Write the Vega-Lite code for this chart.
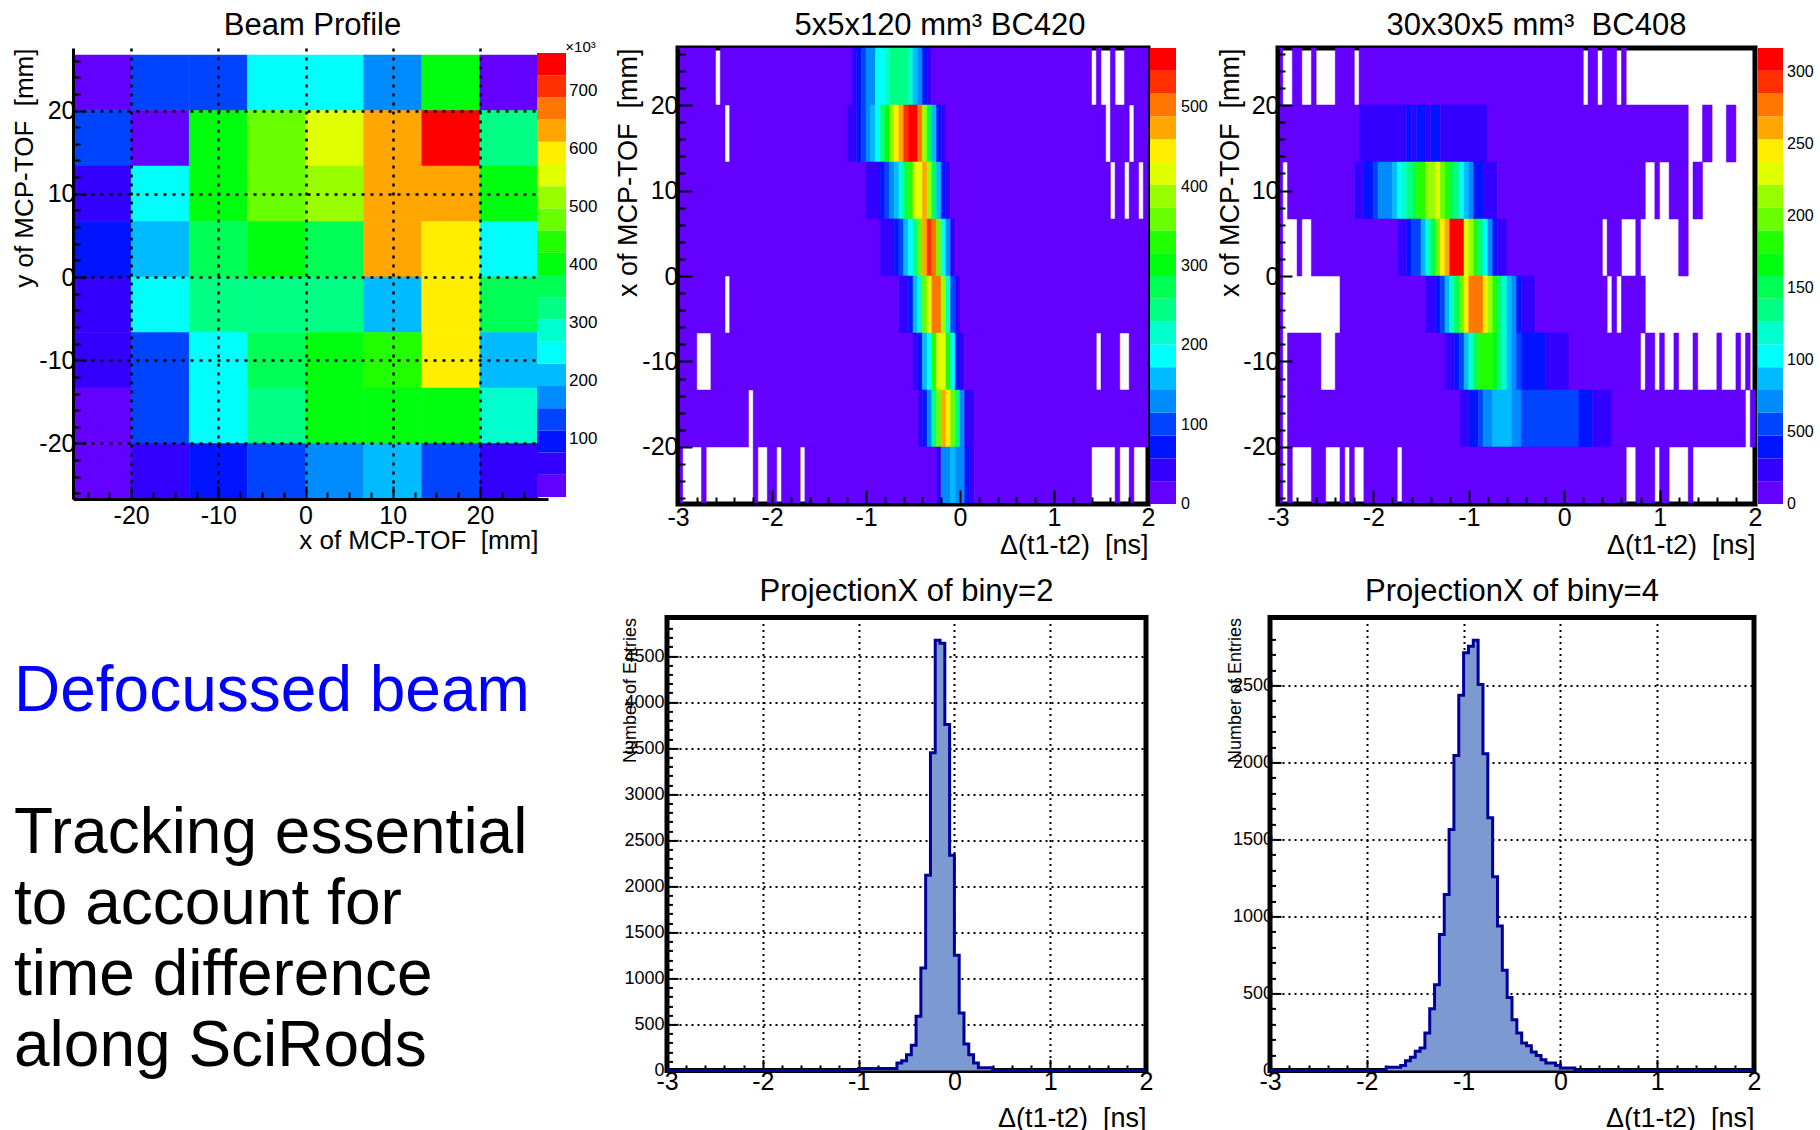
{
"$schema": "https://vega.github.io/schema/vega-lite/v6.json",
"padding": {"left": 11, "top": 7, "right": 0, "bottom": 0},
"spacing": 11.4,
"resolve": {"scale": {"fill": "independent", "stroke": "independent", "x": "independent", "y": "independent"}, "legend": {"fill": "independent"}},
"config": {
  "font": "Liberation Sans",
  "background": "white",
  "view": {"stroke": "black", "strokeWidth": 5},
  "axis": {"domainColor": "black", "domainWidth": 3, "tickColor": "black", "tickWidth": 2, "labelColor": "black", "titleColor": "black", "labelFontSize": 25, "titleFontSize": 27, "titleFontWeight": "normal", "labelFont": "Liberation Sans", "titleFont": "Liberation Sans", "grid": false, "labelFlush": false, "labelOverlap": false, "tickCount": 200},
  "title": {"fontSize": 31, "fontWeight": "normal", "font": "Liberation Sans", "color": "black", "anchor": "middle", "frame": "group"},
  "legend": {"labelFont": "Liberation Sans", "labelColor": "black", "gradientStrokeWidth": 0, "labelOverlap": false}
},
"vconcat": [
{
"hconcat": [
{
  "width": 475, "height": 451,
  "view": {"stroke": null},
  "title": {"text": "Beam Profile", "offset": -2, "dx": 2},
  "layer": [
  {
    "data": {"values": [
      {"x0":-26.667,"x1":-20,"y0":20,"y1":26.667,"v":19},{"x0":-20,"x1":-13.333,"y0":20,"y1":26.667,"v":134},{"x0":-13.333,"x1":-6.667,"y0":20,"y1":26.667,"v":134},{"x0":-6.667,"x1":0,"y0":20,"y1":26.667,"v":249},{"x0":0,"x1":6.667,"y0":20,"y1":26.667,"v":249},{"x0":6.667,"x1":13.333,"y0":20,"y1":26.667,"v":172},{"x0":13.333,"x1":20,"y0":20,"y1":26.667,"v":402},{"x0":20,"x1":26.667,"y0":20,"y1":26.667,"v":19},
      {"x0":-26.667,"x1":-20,"y0":13.333,"y1":20,"v":134},{"x0":-20,"x1":-13.333,"y0":13.333,"y1":20,"v":19},{"x0":-13.333,"x1":-6.667,"y0":13.333,"y1":20,"v":402},{"x0":-6.667,"x1":0,"y0":13.333,"y1":20,"v":479},{"x0":0,"x1":6.667,"y0":13.333,"y1":20,"v":555},{"x0":6.667,"x1":13.333,"y0":13.333,"y1":20,"v":632},{"x0":13.333,"x1":20,"y0":13.333,"y1":20,"v":747},{"x0":20,"x1":26.667,"y0":13.333,"y1":20,"v":326},
      {"x0":-26.667,"x1":-20,"y0":6.667,"y1":13.333,"v":57},{"x0":-20,"x1":-13.333,"y0":6.667,"y1":13.333,"v":249},{"x0":-13.333,"x1":-6.667,"y0":6.667,"y1":13.333,"v":402},{"x0":-6.667,"x1":0,"y0":6.667,"y1":13.333,"v":479},{"x0":0,"x1":6.667,"y0":6.667,"y1":13.333,"v":517},{"x0":6.667,"x1":13.333,"y0":6.667,"y1":13.333,"v":632},{"x0":13.333,"x1":20,"y0":6.667,"y1":13.333,"v":632},{"x0":20,"x1":26.667,"y0":6.667,"y1":13.333,"v":402},
      {"x0":-26.667,"x1":-20,"y0":0,"y1":6.667,"v":96},{"x0":-20,"x1":-13.333,"y0":0,"y1":6.667,"v":211},{"x0":-13.333,"x1":-6.667,"y0":0,"y1":6.667,"v":364},{"x0":-6.667,"x1":0,"y0":0,"y1":6.667,"v":402},{"x0":0,"x1":6.667,"y0":0,"y1":6.667,"v":364},{"x0":6.667,"x1":13.333,"y0":0,"y1":6.667,"v":632},{"x0":13.333,"x1":20,"y0":0,"y1":6.667,"v":594},{"x0":20,"x1":26.667,"y0":0,"y1":6.667,"v":249},
      {"x0":-26.667,"x1":-20,"y0":-6.667,"y1":0,"v":57},{"x0":-20,"x1":-13.333,"y0":-6.667,"y1":0,"v":249},{"x0":-13.333,"x1":-6.667,"y0":-6.667,"y1":0,"v":326},{"x0":-6.667,"x1":0,"y0":-6.667,"y1":0,"v":326},{"x0":0,"x1":6.667,"y0":-6.667,"y1":0,"v":326},{"x0":6.667,"x1":13.333,"y0":-6.667,"y1":0,"v":211},{"x0":13.333,"x1":20,"y0":-6.667,"y1":0,"v":594},{"x0":20,"x1":26.667,"y0":-6.667,"y1":0,"v":364},
      {"x0":-26.667,"x1":-20,"y0":-13.333,"y1":-6.667,"v":57},{"x0":-20,"x1":-13.333,"y0":-13.333,"y1":-6.667,"v":134},{"x0":-13.333,"x1":-6.667,"y0":-13.333,"y1":-6.667,"v":249},{"x0":-6.667,"x1":0,"y0":-13.333,"y1":-6.667,"v":364},{"x0":0,"x1":6.667,"y0":-13.333,"y1":-6.667,"v":402},{"x0":6.667,"x1":13.333,"y0":-13.333,"y1":-6.667,"v":440},{"x0":13.333,"x1":20,"y0":-13.333,"y1":-6.667,"v":594},{"x0":20,"x1":26.667,"y0":-13.333,"y1":-6.667,"v":211},
      {"x0":-26.667,"x1":-20,"y0":-20,"y1":-13.333,"v":19},{"x0":-20,"x1":-13.333,"y0":-20,"y1":-13.333,"v":134},{"x0":-13.333,"x1":-6.667,"y0":-20,"y1":-13.333,"v":249},{"x0":-6.667,"x1":0,"y0":-20,"y1":-13.333,"v":326},{"x0":0,"x1":6.667,"y0":-20,"y1":-13.333,"v":402},{"x0":6.667,"x1":13.333,"y0":-20,"y1":-13.333,"v":402},{"x0":13.333,"x1":20,"y0":-20,"y1":-13.333,"v":402},{"x0":20,"x1":26.667,"y0":-20,"y1":-13.333,"v":287},
      {"x0":-26.667,"x1":-20,"y0":-26.667,"y1":-20,"v":19},{"x0":-20,"x1":-13.333,"y0":-26.667,"y1":-20,"v":57},{"x0":-13.333,"x1":-6.667,"y0":-26.667,"y1":-20,"v":96},{"x0":-6.667,"x1":0,"y0":-26.667,"y1":-20,"v":134},{"x0":0,"x1":6.667,"y0":-26.667,"y1":-20,"v":172},{"x0":6.667,"x1":13.333,"y0":-26.667,"y1":-20,"v":211},{"x0":13.333,"x1":20,"y0":-26.667,"y1":-20,"v":134},{"x0":20,"x1":26.667,"y0":-26.667,"y1":-20,"v":57}
    ]},
    "mark": {"type": "rect", "strokeWidth": 0.5},
    "encoding": {
      "x": {"field": "x0", "type": "quantitative", "scale": {"domain": [-26.667, 27.809], "nice": false, "zero": false},
        "axis": {"title": "x of MCP-TOF\u00a0 [mm]", "titleFontSize": 26, "titleAnchor": "end", "titleX": 465, "titleAlign": "right", "titlePadding": -7, "labelPadding": 17, "zindex": 1, "labelOverlap": false, "tickCount": 200,
          "values": [-25,-22.5,-20,-17.5,-15,-12.5,-10,-7.5,-5,-2.5,0,2.5,5,7.5,10,12.5,15,17.5,20,22.5,25],
          "labelExpr": "datum.value % 10 === 0 ? toString(datum.value) : ''",
          "tickSize": {"condition": {"test": "datum.value % 10 === 0", "value": -13}, "value": -7},
          "grid": true, "gridColor": "black", "gridDash": [3, 6], "gridWidth": 2.5,
          "gridOpacity": {"condition": {"test": "datum.value % 10 === 0", "value": 1}, "value": 0}}},
      "x2": {"field": "x1"},
      "y": {"field": "y0", "type": "quantitative", "scale": {"domain": [-26.667, 27.508], "nice": false, "zero": false},
        "axis": {"title": "y of MCP-TOF\u00a0 [mm]", "titleFontSize": 26, "titleAnchor": "end", "titlePadding": 1.5, "labelPadding": 11, "zindex": 1, "labelOverlap": false, "tickCount": 200,
          "values": [-26,-24,-22,-20,-18,-16,-14,-12,-10,-8,-6,-4,-2,0,2,4,6,8,10,12,14,16,18,20,22,24,26],
          "labelExpr": "datum.value % 10 === 0 ? toString(datum.value) : ''",
          "tickSize": {"condition": {"test": "datum.value % 10 === 0", "value": -13}, "value": -7},
          "grid": true, "gridColor": "black", "gridDash": [3, 6], "gridWidth": 2.5,
          "gridOpacity": {"condition": {"test": "datum.value % 10 === 0", "value": 1}, "value": 0}}},
      "y2": {"field": "y1"},
      "fill": {"field": "v", "type": "quantitative",
        "scale": {"type": "quantize", "domain": [0, 766], "nice": false, "range": ["#6300ff","#3300ff","#0014ff","#0044ff","#008bff","#00bbff","#00fffc","#00ffcc","#00ff85","#00ff55","#00ff0e","#22ff00","#69ff00","#99ff00","#e0ff00","#ffee00","#ffa700","#ff7700","#ff3000","#ff0000"]},
        "legend": {"type": "gradient", "direction": "vertical", "orient": "right", "title": null, "gradientLength": 444, "gradientThickness": 29, "offset": -16.5, "padding": 5, "labelFontSize": 17, "labelOffset": 3, "zindex": 1, "labelOverlap": false,
          "labelExpr": "(round(datum.value/100)*100 > 0 && abs(datum.value - round(datum.value/100)*100) < 19.15) ? toString(round(datum.value/100)*100) : ''",
          "encode": {"labels": {"update": {"dy": {"signal": "(datum.value - round(datum.value/100)*100)/766*444"}}}}}},
      "stroke": {"field": "v", "type": "quantitative", "legend": null,
        "scale": {"type": "quantize", "domain": [0, 766], "nice": false, "range": ["#6300ff","#3300ff","#0014ff","#0044ff","#008bff","#00bbff","#00fffc","#00ffcc","#00ff85","#00ff55","#00ff0e","#22ff00","#69ff00","#99ff00","#e0ff00","#ffee00","#ffa700","#ff7700","#ff3000","#ff0000"]}}
    }
  },
  {
    "data": {"values": [{"x": 29.8, "y": 27.6, "label": "×10³"}]},
    "mark": {"type": "text", "fontSize": 15, "align": "left", "baseline": "middle", "color": "black"},
    "encoding": {"x": {"field": "x", "type": "quantitative"}, "y": {"field": "y", "type": "quantitative"}, "text": {"field": "label"}}
  }
  ]
},
{
  "width": 470, "height": 456,
  "title": {"text": "5x5x120 mm³ BC420", "offset": 0, "dx": 27},
  "layer": [
  {
  "data": {"values": [
    {"y0":20,"y1":26.667,"x0":-3,"x1":-2.6,"v":141},{"y0":20,"y1":26.667,"x0":-2.55,"x1":-1.15,"v":141},{"y0":20,"y1":26.667,"x0":-1.15,"x1":-1.1,"v":423},{"y0":20,"y1":26.667,"x0":-1.1,"x1":-1.05,"v":705},{"y0":20,"y1":26.667,"x0":-1.05,"x1":-1,"v":987},{"y0":20,"y1":26.667,"x0":-1,"x1":-0.9,"v":1269},{"y0":20,"y1":26.667,"x0":-0.9,"x1":-0.8,"v":1833},{"y0":20,"y1":26.667,"x0":-0.8,"x1":-0.75,"v":2115},{"y0":20,"y1":26.667,"x0":-0.75,"x1":-0.55,"v":2397},{"y0":20,"y1":26.667,"x0":-0.55,"x1":-0.5,"v":2115},{"y0":20,"y1":26.667,"x0":-0.5,"x1":-0.45,"v":1551},{"y0":20,"y1":26.667,"x0":-0.45,"x1":-0.4,"v":1269},{"y0":20,"y1":26.667,"x0":-0.4,"x1":-0.35,"v":705},{"y0":20,"y1":26.667,"x0":-0.35,"x1":-0.3,"v":423},{"y0":20,"y1":26.667,"x0":-0.3,"x1":1.4,"v":141},{"y0":20,"y1":26.667,"x0":1.45,"x1":1.5,"v":141},{"y0":20,"y1":26.667,"x0":1.6,"x1":1.65,"v":141},{"y0":20,"y1":26.667,"x0":1.75,"x1":2,"v":141},
    {"y0":13.333,"y1":20,"x0":-3,"x1":-2.5,"v":141},{"y0":13.333,"y1":20,"x0":-2.45,"x1":-1.2,"v":141},{"y0":13.333,"y1":20,"x0":-1.2,"x1":-1.1,"v":423},{"y0":13.333,"y1":20,"x0":-1.1,"x1":-1.05,"v":705},{"y0":13.333,"y1":20,"x0":-1.05,"x1":-1,"v":987},{"y0":13.333,"y1":20,"x0":-1,"x1":-0.95,"v":1269},{"y0":13.333,"y1":20,"x0":-0.95,"x1":-0.9,"v":1551},{"y0":13.333,"y1":20,"x0":-0.9,"x1":-0.85,"v":1833},{"y0":13.333,"y1":20,"x0":-0.85,"x1":-0.8,"v":2397},{"y0":13.333,"y1":20,"x0":-0.8,"x1":-0.75,"v":2961},{"y0":13.333,"y1":20,"x0":-0.75,"x1":-0.7,"v":3807},{"y0":13.333,"y1":20,"x0":-0.7,"x1":-0.65,"v":4371},{"y0":13.333,"y1":20,"x0":-0.65,"x1":-0.6,"v":4653},{"y0":13.333,"y1":20,"x0":-0.6,"x1":-0.55,"v":5217},{"y0":13.333,"y1":20,"x0":-0.55,"x1":-0.45,"v":5499},{"y0":13.333,"y1":20,"x0":-0.45,"x1":-0.4,"v":4935},{"y0":13.333,"y1":20,"x0":-0.4,"x1":-0.35,"v":3807},{"y0":13.333,"y1":20,"x0":-0.35,"x1":-0.3,"v":2679},{"y0":13.333,"y1":20,"x0":-0.3,"x1":-0.25,"v":1551},{"y0":13.333,"y1":20,"x0":-0.25,"x1":-0.2,"v":705},{"y0":13.333,"y1":20,"x0":-0.2,"x1":-0.15,"v":423},{"y0":13.333,"y1":20,"x0":-0.15,"x1":1.55,"v":141},{"y0":13.333,"y1":20,"x0":1.6,"x1":1.8,"v":141},{"y0":13.333,"y1":20,"x0":1.85,"x1":2,"v":141},
    {"y0":6.667,"y1":13.333,"x0":-3,"x1":-1,"v":141},{"y0":6.667,"y1":13.333,"x0":-1,"x1":-0.85,"v":423},{"y0":6.667,"y1":13.333,"x0":-0.85,"x1":-0.8,"v":705},{"y0":6.667,"y1":13.333,"x0":-0.8,"x1":-0.75,"v":987},{"y0":6.667,"y1":13.333,"x0":-0.75,"x1":-0.7,"v":1269},{"y0":6.667,"y1":13.333,"x0":-0.7,"x1":-0.65,"v":1551},{"y0":6.667,"y1":13.333,"x0":-0.65,"x1":-0.6,"v":2115},{"y0":6.667,"y1":13.333,"x0":-0.6,"x1":-0.55,"v":2679},{"y0":6.667,"y1":13.333,"x0":-0.55,"x1":-0.5,"v":3243},{"y0":6.667,"y1":13.333,"x0":-0.5,"x1":-0.4,"v":4089},{"y0":6.667,"y1":13.333,"x0":-0.4,"x1":-0.35,"v":4653},{"y0":6.667,"y1":13.333,"x0":-0.35,"x1":-0.3,"v":3807},{"y0":6.667,"y1":13.333,"x0":-0.3,"x1":-0.25,"v":2679},{"y0":6.667,"y1":13.333,"x0":-0.25,"x1":-0.2,"v":1551},{"y0":6.667,"y1":13.333,"x0":-0.2,"x1":-0.15,"v":705},{"y0":6.667,"y1":13.333,"x0":-0.15,"x1":-0.1,"v":423},{"y0":6.667,"y1":13.333,"x0":-0.1,"x1":1.6,"v":141},{"y0":6.667,"y1":13.333,"x0":1.65,"x1":1.75,"v":141},{"y0":6.667,"y1":13.333,"x0":1.8,"x1":1.9,"v":141},{"y0":6.667,"y1":13.333,"x0":1.95,"x1":2,"v":141},
    {"y0":0,"y1":6.667,"x0":-3,"x1":-0.85,"v":141},{"y0":0,"y1":6.667,"x0":-0.85,"x1":-0.7,"v":423},{"y0":0,"y1":6.667,"x0":-0.7,"x1":-0.65,"v":705},{"y0":0,"y1":6.667,"x0":-0.65,"x1":-0.6,"v":987},{"y0":0,"y1":6.667,"x0":-0.6,"x1":-0.55,"v":1551},{"y0":0,"y1":6.667,"x0":-0.55,"x1":-0.5,"v":1833},{"y0":0,"y1":6.667,"x0":-0.5,"x1":-0.45,"v":2397},{"y0":0,"y1":6.667,"x0":-0.45,"x1":-0.4,"v":3525},{"y0":0,"y1":6.667,"x0":-0.4,"x1":-0.35,"v":4653},{"y0":0,"y1":6.667,"x0":-0.35,"x1":-0.3,"v":5217},{"y0":0,"y1":6.667,"x0":-0.3,"x1":-0.25,"v":4935},{"y0":0,"y1":6.667,"x0":-0.25,"x1":-0.2,"v":3525},{"y0":0,"y1":6.667,"x0":-0.2,"x1":-0.15,"v":1833},{"y0":0,"y1":6.667,"x0":-0.15,"x1":-0.1,"v":1269},{"y0":0,"y1":6.667,"x0":-0.1,"x1":-0.05,"v":423},{"y0":0,"y1":6.667,"x0":-0.05,"x1":2,"v":141},
    {"y0":-6.667,"y1":0,"x0":-3,"x1":-2.5,"v":141},{"y0":-6.667,"y1":0,"x0":-2.45,"x1":-0.65,"v":141},{"y0":-6.667,"y1":0,"x0":-0.65,"x1":-0.55,"v":423},{"y0":-6.667,"y1":0,"x0":-0.55,"x1":-0.5,"v":705},{"y0":-6.667,"y1":0,"x0":-0.5,"x1":-0.45,"v":1551},{"y0":-6.667,"y1":0,"x0":-0.45,"x1":-0.4,"v":2115},{"y0":-6.667,"y1":0,"x0":-0.4,"x1":-0.35,"v":3525},{"y0":-6.667,"y1":0,"x0":-0.35,"x1":-0.3,"v":4089},{"y0":-6.667,"y1":0,"x0":-0.3,"x1":-0.2,"v":4935},{"y0":-6.667,"y1":0,"x0":-0.2,"x1":-0.15,"v":3807},{"y0":-6.667,"y1":0,"x0":-0.15,"x1":-0.1,"v":2115},{"y0":-6.667,"y1":0,"x0":-0.1,"x1":-0.05,"v":987},{"y0":-6.667,"y1":0,"x0":-0.05,"x1":0,"v":423},{"y0":-6.667,"y1":0,"x0":0,"x1":2,"v":141},
    {"y0":-13.333,"y1":-6.667,"x0":-3,"x1":-2.8,"v":141},{"y0":-13.333,"y1":-6.667,"x0":-2.65,"x1":-0.5,"v":141},{"y0":-13.333,"y1":-6.667,"x0":-0.5,"x1":-0.45,"v":423},{"y0":-13.333,"y1":-6.667,"x0":-0.45,"x1":-0.4,"v":705},{"y0":-13.333,"y1":-6.667,"x0":-0.4,"x1":-0.35,"v":1551},{"y0":-13.333,"y1":-6.667,"x0":-0.35,"x1":-0.3,"v":1833},{"y0":-13.333,"y1":-6.667,"x0":-0.3,"x1":-0.25,"v":3243},{"y0":-13.333,"y1":-6.667,"x0":-0.25,"x1":-0.15,"v":4089},{"y0":-13.333,"y1":-6.667,"x0":-0.15,"x1":-0.1,"v":3243},{"y0":-13.333,"y1":-6.667,"x0":-0.1,"x1":-0.05,"v":1833},{"y0":-13.333,"y1":-6.667,"x0":-0.05,"x1":0,"v":705},{"y0":-13.333,"y1":-6.667,"x0":0,"x1":0.05,"v":423},{"y0":-13.333,"y1":-6.667,"x0":0.05,"x1":1.45,"v":141},{"y0":-13.333,"y1":-6.667,"x0":1.5,"x1":1.7,"v":141},{"y0":-13.333,"y1":-6.667,"x0":1.8,"x1":2,"v":141},
    {"y0":-20,"y1":-13.333,"x0":-3,"x1":-2.25,"v":141},{"y0":-20,"y1":-13.333,"x0":-2.2,"x1":-0.45,"v":141},{"y0":-20,"y1":-13.333,"x0":-0.45,"x1":-0.4,"v":423},{"y0":-20,"y1":-13.333,"x0":-0.4,"x1":-0.35,"v":705},{"y0":-20,"y1":-13.333,"x0":-0.35,"x1":-0.3,"v":1269},{"y0":-20,"y1":-13.333,"x0":-0.3,"x1":-0.25,"v":2397},{"y0":-20,"y1":-13.333,"x0":-0.25,"x1":-0.2,"v":3525},{"y0":-20,"y1":-13.333,"x0":-0.2,"x1":-0.15,"v":4653},{"y0":-20,"y1":-13.333,"x0":-0.15,"x1":-0.1,"v":4371},{"y0":-20,"y1":-13.333,"x0":-0.1,"x1":-0.05,"v":3525},{"y0":-20,"y1":-13.333,"x0":-0.05,"x1":0,"v":2397},{"y0":-20,"y1":-13.333,"x0":0,"x1":0.05,"v":1269},{"y0":-20,"y1":-13.333,"x0":0.05,"x1":0.15,"v":423},{"y0":-20,"y1":-13.333,"x0":0.15,"x1":2,"v":141},
    {"y0":-26.667,"y1":-20,"x0":-3,"x1":-2.95,"v":141},{"y0":-26.667,"y1":-20,"x0":-2.75,"x1":-2.7,"v":141},{"y0":-26.667,"y1":-20,"x0":-2.2,"x1":-2.15,"v":141},{"y0":-26.667,"y1":-20,"x0":-2.05,"x1":-1.95,"v":141},{"y0":-26.667,"y1":-20,"x0":-1.9,"x1":-1.7,"v":141},{"y0":-26.667,"y1":-20,"x0":-1.65,"x1":-0.25,"v":141},{"y0":-26.667,"y1":-20,"x0":-0.25,"x1":-0.2,"v":423},{"y0":-26.667,"y1":-20,"x0":-0.2,"x1":-0.1,"v":1269},{"y0":-26.667,"y1":-20,"x0":-0.1,"x1":-0.05,"v":1551},{"y0":-26.667,"y1":-20,"x0":-0.05,"x1":0.05,"v":1269},{"y0":-26.667,"y1":-20,"x0":0.05,"x1":0.1,"v":705},{"y0":-26.667,"y1":-20,"x0":0.1,"x1":0.15,"v":423},{"y0":-26.667,"y1":-20,"x0":0.15,"x1":1.4,"v":141},{"y0":-26.667,"y1":-20,"x0":1.65,"x1":1.7,"v":141},{"y0":-26.667,"y1":-20,"x0":1.8,"x1":1.85,"v":141}
  ]},
  "mark": {"type": "rect", "strokeWidth": 0.5},
  "encoding": {
    "x": {"field": "x0", "type": "quantitative", "scale": {"domain": [-3, 2], "nice": false, "zero": false},
      "axis": {"title": "Δ(t1-t2)\u00a0 [ns]", "titleAnchor": "end", "titlePadding": -5, "labelPadding": 15, "zindex": 1, "labelOverlap": false, "tickCount": 200,
        "values": [-3,-2.8,-2.6,-2.4,-2.2,-2,-1.8,-1.6,-1.4,-1.2,-1,-0.8,-0.6,-0.4,-0.2,0,0.2,0.4,0.6,0.8,1,1.2,1.4,1.6,1.8,2],
        "labelExpr": "abs(datum.value - round(datum.value)) < 0.001 ? toString(round(datum.value)) : ''",
        "tickSize": {"condition": {"test": "abs(datum.value - round(datum.value)) < 0.001", "value": -14}, "value": -7}}},
    "x2": {"field": "x1"},
    "y": {"field": "y0", "type": "quantitative", "scale": {"domain": [-26.667, 26.667], "nice": false, "zero": false},
      "axis": {"title": "x of MCP-TOF\u00a0 [mm]", "titleAnchor": "end", "titlePadding": -1, "labelPadding": 14, "zindex": 1, "labelOverlap": false, "tickCount": 200,
        "values": [-26,-24,-22,-20,-18,-16,-14,-12,-10,-8,-6,-4,-2,0,2,4,6,8,10,12,14,16,18,20,22,24,26],
        "labelExpr": "datum.value % 10 === 0 ? toString(datum.value) : ''",
        "tickSize": {"condition": {"test": "datum.value % 10 === 0", "value": -14}, "value": -7}}},
    "y2": {"field": "y1"},
    "fill": {"field": "v", "type": "quantitative",
      "scale": {"type": "quantize", "domain": [0, 5750], "nice": false, "range": ["#6300ff","#3300ff","#0014ff","#0044ff","#008bff","#00bbff","#00fffc","#00ffcc","#00ff85","#00ff55","#00ff0e","#22ff00","#69ff00","#99ff00","#e0ff00","#ffee00","#ffa700","#ff7700","#ff3000","#ff0000"]},
      "legend": {"type": "gradient", "direction": "vertical", "orient": "right", "title": null, "gradientLength": 456, "gradientThickness": 26, "offset": 2, "padding": 0, "labelFontSize": 16, "labelOffset": 5, "labelOverlap": false,
        "labelExpr": "(abs(datum.value - round(datum.value/1000)*1000) < 143.7 && datum.value > 500) ? substring(toString(round(datum.value/1000)*1000), 0, 3) : ''",
        "encode": {"labels": {"update": {"dy": {"signal": "(datum.value - round(datum.value/1000)*1000)/5750*456"}}}}}},
    "stroke": {"field": "v", "type": "quantitative", "legend": null,
      "scale": {"type": "quantize", "domain": [0, 5750], "nice": false, "range": ["#6300ff","#3300ff","#0014ff","#0044ff","#008bff","#00bbff","#00fffc","#00ffcc","#00ff85","#00ff55","#00ff0e","#22ff00","#69ff00","#99ff00","#e0ff00","#ffee00","#ffa700","#ff7700","#ff3000","#ff0000"]}}
  }
  },
  {
    "data": {"values": [{"x": 2.351, "y": -26.667, "label": "0"}]},
    "mark": {"type": "text", "fontSize": 16, "align": "left", "baseline": "middle", "color": "black"},
    "encoding": {"x": {"field": "x", "type": "quantitative"}, "y": {"field": "y", "type": "quantitative"}, "text": {"field": "label"}}
  }
  ]
},
{
  "width": 477, "height": 456,
  "title": {"text": "30x30x5 mm³\u00a0 BC408", "offset": 0, "dx": 20},
  "layer": [
  {
  "data": {"values": [
    {"y0":20,"y1":26.667,"x0":-3,"x1":-2.95,"v":79},{"y0":20,"y1":26.667,"x0":-2.85,"x1":-2.75,"v":79},{"y0":20,"y1":26.667,"x0":-2.65,"x1":-2.6,"v":79},{"y0":20,"y1":26.667,"x0":-2.4,"x1":-2.2,"v":79},{"y0":20,"y1":26.667,"x0":-2.15,"x1":0.2,"v":79},{"y0":20,"y1":26.667,"x0":0.25,"x1":0.35,"v":79},{"y0":20,"y1":26.667,"x0":0.4,"x1":0.55,"v":79},{"y0":20,"y1":26.667,"x0":0.6,"x1":0.65,"v":79},
    {"y0":13.333,"y1":20,"x0":-3,"x1":-2.15,"v":79},{"y0":13.333,"y1":20,"x0":-2.15,"x1":-1.65,"v":237},{"y0":13.333,"y1":20,"x0":-1.65,"x1":-1.6,"v":394},{"y0":13.333,"y1":20,"x0":-1.6,"x1":-1.55,"v":237},{"y0":13.333,"y1":20,"x0":-1.55,"x1":-1.45,"v":394},{"y0":13.333,"y1":20,"x0":-1.45,"x1":-1.4,"v":237},{"y0":13.333,"y1":20,"x0":-1.4,"x1":-1.3,"v":394},{"y0":13.333,"y1":20,"x0":-1.3,"x1":-0.8,"v":237},{"y0":13.333,"y1":20,"x0":-0.8,"x1":1.3,"v":79},{"y0":13.333,"y1":20,"x0":1.45,"x1":1.55,"v":79},{"y0":13.333,"y1":20,"x0":1.7,"x1":1.8,"v":79},
    {"y0":6.667,"y1":13.333,"x0":-3,"x1":-2.95,"v":79},{"y0":6.667,"y1":13.333,"x0":-2.9,"x1":-2.2,"v":79},{"y0":6.667,"y1":13.333,"x0":-2.2,"x1":-2.1,"v":237},{"y0":6.667,"y1":13.333,"x0":-2.1,"x1":-2,"v":394},{"y0":6.667,"y1":13.333,"x0":-2,"x1":-1.95,"v":552},{"y0":6.667,"y1":13.333,"x0":-1.95,"x1":-1.8,"v":710},{"y0":6.667,"y1":13.333,"x0":-1.8,"x1":-1.75,"v":868},{"y0":6.667,"y1":13.333,"x0":-1.75,"x1":-1.7,"v":1025},{"y0":6.667,"y1":13.333,"x0":-1.7,"x1":-1.65,"v":1183},{"y0":6.667,"y1":13.333,"x0":-1.65,"x1":-1.6,"v":1341},{"y0":6.667,"y1":13.333,"x0":-1.6,"x1":-1.55,"v":1499},{"y0":6.667,"y1":13.333,"x0":-1.55,"x1":-1.45,"v":1814},{"y0":6.667,"y1":13.333,"x0":-1.45,"x1":-1.35,"v":2130},{"y0":6.667,"y1":13.333,"x0":-1.35,"x1":-1.3,"v":2287},{"y0":6.667,"y1":13.333,"x0":-1.3,"x1":-1.25,"v":1972},{"y0":6.667,"y1":13.333,"x0":-1.25,"x1":-1.2,"v":1814},{"y0":6.667,"y1":13.333,"x0":-1.2,"x1":-1.15,"v":1499},{"y0":6.667,"y1":13.333,"x0":-1.15,"x1":-1.1,"v":1341},{"y0":6.667,"y1":13.333,"x0":-1.1,"x1":-1.05,"v":1025},{"y0":6.667,"y1":13.333,"x0":-1.05,"x1":-1,"v":868},{"y0":6.667,"y1":13.333,"x0":-1,"x1":-0.95,"v":710},{"y0":6.667,"y1":13.333,"x0":-0.95,"x1":-0.85,"v":394},{"y0":6.667,"y1":13.333,"x0":-0.85,"x1":-0.7,"v":237},{"y0":6.667,"y1":13.333,"x0":-0.7,"x1":0.85,"v":79},{"y0":6.667,"y1":13.333,"x0":0.95,"x1":1,"v":79},{"y0":6.667,"y1":13.333,"x0":1.1,"x1":1.3,"v":79},{"y0":6.667,"y1":13.333,"x0":1.35,"x1":1.45,"v":79},
    {"y0":0,"y1":6.667,"x0":-3,"x1":-2.95,"v":79},{"y0":0,"y1":6.667,"x0":-2.8,"x1":-2.75,"v":79},{"y0":0,"y1":6.667,"x0":-2.65,"x1":-1.75,"v":79},{"y0":0,"y1":6.667,"x0":-1.75,"x1":-1.65,"v":237},{"y0":0,"y1":6.667,"x0":-1.65,"x1":-1.6,"v":394},{"y0":0,"y1":6.667,"x0":-1.6,"x1":-1.5,"v":552},{"y0":0,"y1":6.667,"x0":-1.5,"x1":-1.45,"v":868},{"y0":0,"y1":6.667,"x0":-1.45,"x1":-1.4,"v":1183},{"y0":0,"y1":6.667,"x0":-1.4,"x1":-1.35,"v":1499},{"y0":0,"y1":6.667,"x0":-1.35,"x1":-1.3,"v":1972},{"y0":0,"y1":6.667,"x0":-1.3,"x1":-1.25,"v":2445},{"y0":0,"y1":6.667,"x0":-1.25,"x1":-1.2,"v":2603},{"y0":0,"y1":6.667,"x0":-1.2,"x1":-1.05,"v":3076},{"y0":0,"y1":6.667,"x0":-1.05,"x1":-1,"v":2287},{"y0":0,"y1":6.667,"x0":-1,"x1":-0.95,"v":2130},{"y0":0,"y1":6.667,"x0":-0.95,"x1":-0.9,"v":1814},{"y0":0,"y1":6.667,"x0":-0.9,"x1":-0.85,"v":1341},{"y0":0,"y1":6.667,"x0":-0.85,"x1":-0.8,"v":1025},{"y0":0,"y1":6.667,"x0":-0.8,"x1":-0.75,"v":710},{"y0":0,"y1":6.667,"x0":-0.75,"x1":-0.7,"v":394},{"y0":0,"y1":6.667,"x0":-0.7,"x1":-0.6,"v":237},{"y0":0,"y1":6.667,"x0":-0.6,"x1":0.4,"v":79},{"y0":0,"y1":6.667,"x0":0.45,"x1":0.6,"v":79},{"y0":0,"y1":6.667,"x0":0.75,"x1":0.8,"v":79},{"y0":0,"y1":6.667,"x0":1.2,"x1":1.3,"v":79},
    {"y0":-6.667,"y1":0,"x0":-3,"x1":-2.95,"v":79},{"y0":-6.667,"y1":0,"x0":-2.35,"x1":-1.45,"v":79},{"y0":-6.667,"y1":0,"x0":-1.45,"x1":-1.35,"v":237},{"y0":-6.667,"y1":0,"x0":-1.35,"x1":-1.3,"v":394},{"y0":-6.667,"y1":0,"x0":-1.3,"x1":-1.25,"v":552},{"y0":-6.667,"y1":0,"x0":-1.25,"x1":-1.2,"v":868},{"y0":-6.667,"y1":0,"x0":-1.2,"x1":-1.15,"v":1183},{"y0":-6.667,"y1":0,"x0":-1.15,"x1":-1.1,"v":1499},{"y0":-6.667,"y1":0,"x0":-1.1,"x1":-1.05,"v":1972},{"y0":-6.667,"y1":0,"x0":-1.05,"x1":-1,"v":2445},{"y0":-6.667,"y1":0,"x0":-1,"x1":-0.85,"v":2761},{"y0":-6.667,"y1":0,"x0":-0.85,"x1":-0.8,"v":2445},{"y0":-6.667,"y1":0,"x0":-0.8,"x1":-0.75,"v":2130},{"y0":-6.667,"y1":0,"x0":-0.75,"x1":-0.7,"v":1814},{"y0":-6.667,"y1":0,"x0":-0.7,"x1":-0.65,"v":1341},{"y0":-6.667,"y1":0,"x0":-0.65,"x1":-0.6,"v":1183},{"y0":-6.667,"y1":0,"x0":-0.6,"x1":-0.55,"v":868},{"y0":-6.667,"y1":0,"x0":-0.55,"x1":-0.5,"v":710},{"y0":-6.667,"y1":0,"x0":-0.5,"x1":-0.45,"v":394},{"y0":-6.667,"y1":0,"x0":-0.45,"x1":-0.3,"v":237},{"y0":-6.667,"y1":0,"x0":-0.3,"x1":0.45,"v":79},{"y0":-6.667,"y1":0,"x0":0.5,"x1":0.55,"v":79},{"y0":-6.667,"y1":0,"x0":0.6,"x1":0.85,"v":79},
    {"y0":-13.333,"y1":-6.667,"x0":-3,"x1":-2.95,"v":79},{"y0":-13.333,"y1":-6.667,"x0":-2.9,"x1":-2.55,"v":79},{"y0":-13.333,"y1":-6.667,"x0":-2.4,"x1":-1.25,"v":79},{"y0":-13.333,"y1":-6.667,"x0":-1.25,"x1":-1.15,"v":237},{"y0":-13.333,"y1":-6.667,"x0":-1.15,"x1":-1.1,"v":394},{"y0":-13.333,"y1":-6.667,"x0":-1.1,"x1":-1.05,"v":552},{"y0":-13.333,"y1":-6.667,"x0":-1.05,"x1":-1,"v":868},{"y0":-13.333,"y1":-6.667,"x0":-1,"x1":-0.95,"v":1183},{"y0":-13.333,"y1":-6.667,"x0":-0.95,"x1":-0.9,"v":1499},{"y0":-13.333,"y1":-6.667,"x0":-0.9,"x1":-0.75,"v":1814},{"y0":-13.333,"y1":-6.667,"x0":-0.75,"x1":-0.7,"v":1656},{"y0":-13.333,"y1":-6.667,"x0":-0.7,"x1":-0.65,"v":1341},{"y0":-13.333,"y1":-6.667,"x0":-0.65,"x1":-0.6,"v":1183},{"y0":-13.333,"y1":-6.667,"x0":-0.6,"x1":-0.55,"v":868},{"y0":-13.333,"y1":-6.667,"x0":-0.55,"x1":-0.5,"v":710},{"y0":-13.333,"y1":-6.667,"x0":-0.5,"x1":-0.45,"v":552},{"y0":-13.333,"y1":-6.667,"x0":-0.45,"x1":-0.2,"v":394},{"y0":-13.333,"y1":-6.667,"x0":-0.2,"x1":0.05,"v":237},{"y0":-13.333,"y1":-6.667,"x0":0.05,"x1":0.8,"v":79},{"y0":-13.333,"y1":-6.667,"x0":0.85,"x1":0.95,"v":79},{"y0":-13.333,"y1":-6.667,"x0":1,"x1":1.05,"v":79},{"y0":-13.333,"y1":-6.667,"x0":1.15,"x1":1.2,"v":79},{"y0":-13.333,"y1":-6.667,"x0":1.35,"x1":1.4,"v":79},{"y0":-13.333,"y1":-6.667,"x0":1.6,"x1":1.65,"v":79},{"y0":-13.333,"y1":-6.667,"x0":1.8,"x1":1.85,"v":79},{"y0":-13.333,"y1":-6.667,"x0":1.9,"x1":1.95,"v":79},
    {"y0":-20,"y1":-13.333,"x0":-3,"x1":-2.95,"v":79},{"y0":-20,"y1":-13.333,"x0":-2.9,"x1":-1.1,"v":79},{"y0":-20,"y1":-13.333,"x0":-1.1,"x1":-1,"v":237},{"y0":-20,"y1":-13.333,"x0":-1,"x1":-0.9,"v":394},{"y0":-20,"y1":-13.333,"x0":-0.9,"x1":-0.85,"v":552},{"y0":-20,"y1":-13.333,"x0":-0.85,"x1":-0.75,"v":710},{"y0":-20,"y1":-13.333,"x0":-0.75,"x1":-0.55,"v":868},{"y0":-20,"y1":-13.333,"x0":-0.55,"x1":-0.45,"v":710},{"y0":-20,"y1":-13.333,"x0":-0.45,"x1":0.15,"v":552},{"y0":-20,"y1":-13.333,"x0":0.15,"x1":0.3,"v":394},{"y0":-20,"y1":-13.333,"x0":0.3,"x1":0.5,"v":237},{"y0":-20,"y1":-13.333,"x0":0.5,"x1":1.9,"v":79},{"y0":-20,"y1":-13.333,"x0":1.95,"x1":2,"v":79},
    {"y0":-26.667,"y1":-20,"x0":-3,"x1":-2.95,"v":79},{"y0":-26.667,"y1":-20,"x0":-2.9,"x1":-2.85,"v":79},{"y0":-26.667,"y1":-20,"x0":-2.65,"x1":-2.5,"v":79},{"y0":-26.667,"y1":-20,"x0":-2.35,"x1":-2.3,"v":79},{"y0":-26.667,"y1":-20,"x0":-2.25,"x1":-2.2,"v":79},{"y0":-26.667,"y1":-20,"x0":-2.1,"x1":-1.75,"v":79},{"y0":-26.667,"y1":-20,"x0":-1.7,"x1":0.65,"v":79},{"y0":-26.667,"y1":-20,"x0":0.75,"x1":0.95,"v":79},{"y0":-26.667,"y1":-20,"x0":1,"x1":1.1,"v":79},{"y0":-26.667,"y1":-20,"x0":1.3,"x1":1.35,"v":79}
  ]},
  "mark": {"type": "rect", "strokeWidth": 0.5},
  "encoding": {
    "x": {"field": "x0", "type": "quantitative", "scale": {"domain": [-3, 2], "nice": false, "zero": false},
      "axis": {"title": "Δ(t1-t2)\u00a0 [ns]", "titleAnchor": "end", "titlePadding": -5, "labelPadding": 15, "zindex": 1, "labelOverlap": false, "tickCount": 200,
        "values": [-3,-2.8,-2.6,-2.4,-2.2,-2,-1.8,-1.6,-1.4,-1.2,-1,-0.8,-0.6,-0.4,-0.2,0,0.2,0.4,0.6,0.8,1,1.2,1.4,1.6,1.8,2],
        "labelExpr": "abs(datum.value - round(datum.value)) < 0.001 ? toString(round(datum.value)) : ''",
        "tickSize": {"condition": {"test": "abs(datum.value - round(datum.value)) < 0.001", "value": -14}, "value": -7}}},
    "x2": {"field": "x1"},
    "y": {"field": "y0", "type": "quantitative", "scale": {"domain": [-26.667, 26.667], "nice": false, "zero": false},
      "axis": {"title": "x of MCP-TOF\u00a0 [mm]", "titleAnchor": "end", "titlePadding": -2, "labelPadding": 13, "zindex": 1, "labelOverlap": false, "tickCount": 200,
        "values": [-26,-24,-22,-20,-18,-16,-14,-12,-10,-8,-6,-4,-2,0,2,4,6,8,10,12,14,16,18,20,22,24,26],
        "labelExpr": "datum.value % 10 === 0 ? toString(datum.value) : ''",
        "tickSize": {"condition": {"test": "datum.value % 10 === 0", "value": -14}, "value": -7}}},
    "y2": {"field": "y1"},
    "fill": {"field": "v", "type": "quantitative",
      "scale": {"type": "quantize", "domain": [0, 3165], "nice": false, "range": ["#6300ff","#3300ff","#0014ff","#0044ff","#008bff","#00bbff","#00fffc","#00ffcc","#00ff85","#00ff55","#00ff0e","#22ff00","#69ff00","#99ff00","#e0ff00","#ffee00","#ffa700","#ff7700","#ff3000","#ff0000"]},
      "legend": {"type": "gradient", "direction": "vertical", "orient": "right", "title": null, "gradientLength": 456, "gradientThickness": 25, "offset": 3, "padding": 0, "labelFontSize": 16, "labelOffset": 4, "labelOverlap": false,
        "labelExpr": "(abs(datum.value - round(datum.value/500)*500) < 79.1 && datum.value > 250) ? substring(toString(round(datum.value/500)*500), 0, 3) : ''",
        "encode": {"labels": {"update": {"dy": {"signal": "(datum.value - round(datum.value/500)*500)/3165*456"}}}}}},
    "stroke": {"field": "v", "type": "quantitative", "legend": null,
      "scale": {"type": "quantize", "domain": [0, 3165], "nice": false, "range": ["#6300ff","#3300ff","#0014ff","#0044ff","#008bff","#00bbff","#00fffc","#00ffcc","#00ff85","#00ff55","#00ff0e","#22ff00","#69ff00","#99ff00","#e0ff00","#ffee00","#ffa700","#ff7700","#ff3000","#ff0000"]}}
  }
  },
  {
    "data": {"values": [{"x": 2.335, "y": -26.667, "label": "0"}]},
    "mark": {"type": "text", "fontSize": 16, "align": "left", "baseline": "middle", "color": "black"},
    "encoding": {"x": {"field": "x", "type": "quantitative"}, "y": {"field": "y", "type": "quantitative"}, "text": {"field": "label"}}
  }
  ]
}
],
"spacing": 130,
"bounds": "flush",
"resolve": {"scale": {"fill": "independent", "stroke": "independent", "x": "independent", "y": "independent"}, "legend": {"fill": "independent"}}
},
{
"hconcat": [
{
  "width": 470, "height": 20,
  "view": {"stroke": null},
  "title": {"text": "Defocussed beam", "subtitle": ["Tracking essential", "to account for", "time difference", "along SciRods"], "orient": "bottom", "anchor": "start", "frame": "group", "dx": -59, "offset": 23, "fontSize": 64, "color": "#0000ff", "fontWeight": "normal", "font": "Liberation Sans", "subtitleFont": "Liberation Sans", "subtitleFontSize": 64, "subtitleColor": "black", "subtitleLineHeight": 71, "subtitlePadding": 78},
  "data": {"values": [{"note": ""}]},
  "mark": {"type": "text", "opacity": 0},
  "encoding": {"text": {"field": "note"}}
},
{
  "width": 479, "height": 453,
  "title": {"text": "ProjectionX of biny=2", "offset": 9.6},
  "data": {"values": [
    {"t":-3,"n":0},{"t":-1,"n":20},{"t":-0.95,"n":20},{"t":-0.9,"n":20},{"t":-0.85,"n":20},{"t":-0.8,"n":20},{"t":-0.75,"n":20},{"t":-0.7,"n":20},{"t":-0.65,"n":20},{"t":-0.6,"n":80},{"t":-0.55,"n":105},{"t":-0.5,"n":170},{"t":-0.45,"n":272},{"t":-0.4,"n":587},{"t":-0.35,"n":1113},{"t":-0.3,"n":2120},{"t":-0.25,"n":3450},{"t":-0.2,"n":4672},{"t":-0.15,"n":4640},{"t":-0.1,"n":3758},{"t":-0.05,"n":2338},{"t":0,"n":1250},{"t":0.05,"n":623},{"t":0.1,"n":286},{"t":0.15,"n":170},{"t":0.2,"n":80},{"t":0.25,"n":30},{"t":0.3,"n":30},{"t":0.35,"n":30},{"t":0.4,"n":0},{"t":2,"n":0}
  ]},
  "layer": [
    {"mark": {"type": "area", "interpolate": "step-after", "color": "#7d99d1"},
     "encoding": {
       "x": {"field": "t", "type": "quantitative", "scale": {"domain": [-3, 2], "nice": false, "zero": false},
         "axis": {"title": "Δ(t1-t2)\u00a0 [ns]", "titleAnchor": "end", "titlePadding": 5, "labelPadding": 10.5, "labelOverlap": false, "tickCount": 200,
           "values": [-3,-2.8,-2.6,-2.4,-2.2,-2,-1.8,-1.6,-1.4,-1.2,-1,-0.8,-0.6,-0.4,-0.2,0,0.2,0.4,0.6,0.8,1,1.2,1.4,1.6,1.8,2],
           "labelExpr": "abs(datum.value - round(datum.value)) < 0.001 ? toString(round(datum.value)) : ''",
           "tickSize": {"condition": {"test": "abs(datum.value - round(datum.value)) < 0.001", "value": -11}, "value": -5.5},
           "grid": true, "gridColor": "black", "gridDash": [2, 4], "gridWidth": 2,
           "gridOpacity": {"condition": {"test": "abs(datum.value - round(datum.value)) < 0.001", "value": 1}, "value": 0}}},
       "y": {"field": "n", "type": "quantitative", "scale": {"domain": [0, 4920], "nice": false},
         "axis": {"title": "Number of Entries", "titleAnchor": "end", "titleFontSize": 18, "labelFontSize": 18, "titlePadding": -15.5, "labelPadding": 14, "labelOverlap": false, "tickCount": 200,
           "values": [0,100,200,300,400,500,600,700,800,900,1000,1100,1200,1300,1400,1500,1600,1700,1800,1900,2000,2100,2200,2300,2400,2500,2600,2700,2800,2900,3000,3100,3200,3300,3400,3500,3600,3700,3800,3900,4000,4100,4200,4300,4400,4500,4600,4700,4800],
           "labelExpr": "datum.value % 500 === 0 ? toString(datum.value) : ''",
           "tickSize": {"condition": {"test": "datum.value % 500 === 0", "value": -11}, "value": -5.5},
           "grid": true, "gridColor": "black", "gridDash": [2, 4], "gridWidth": 2,
           "gridOpacity": {"condition": {"test": "datum.value % 500 === 0", "value": 1}, "value": 0}}}
     }},
    {"mark": {"type": "line", "interpolate": "step-after", "color": "#000099", "strokeWidth": 3},
     "encoding": {"x": {"field": "t", "type": "quantitative"}, "y": {"field": "n", "type": "quantitative"}}}
  ]
},
{
  "width": 484, "height": 453,
  "title": {"text": "ProjectionX of biny=4", "offset": 9.6},
  "data": {"values": [
    {"t":-3,"n":0},{"t":-1.8,"n":20},{"t":-1.75,"n":20},{"t":-1.7,"n":20},{"t":-1.65,"n":32},{"t":-1.6,"n":63},{"t":-1.55,"n":85},{"t":-1.5,"n":124},{"t":-1.45,"n":145},{"t":-1.4,"n":243},{"t":-1.35,"n":401},{"t":-1.3,"n":557},{"t":-1.25,"n":882},{"t":-1.2,"n":1142},{"t":-1.15,"n":1564},{"t":-1.1,"n":2045},{"t":-1.05,"n":2437},{"t":-1,"n":2712},{"t":-0.95,"n":2755},{"t":-0.9,"n":2793},{"t":-0.85,"n":2506},{"t":-0.8,"n":2056},{"t":-0.75,"n":1641},{"t":-0.7,"n":1257},{"t":-0.65,"n":937},{"t":-0.6,"n":651},{"t":-0.55,"n":474},{"t":-0.5,"n":329},{"t":-0.45,"n":243},{"t":-0.4,"n":178},{"t":-0.35,"n":160},{"t":-0.3,"n":119},{"t":-0.25,"n":97},{"t":-0.2,"n":69},{"t":-0.15,"n":48},{"t":-0.1,"n":48},{"t":-0.05,"n":32},{"t":0,"n":15},{"t":0.05,"n":15},{"t":0.1,"n":15},{"t":0.15,"n":0},{"t":2,"n":0}
  ]},
  "layer": [
    {"mark": {"type": "area", "interpolate": "step-after", "color": "#7d99d1"},
     "encoding": {
       "x": {"field": "t", "type": "quantitative", "scale": {"domain": [-3, 2], "nice": false, "zero": false},
         "axis": {"title": "Δ(t1-t2)\u00a0 [ns]", "titleAnchor": "end", "titlePadding": 5, "labelPadding": 10.5, "labelOverlap": false, "tickCount": 200,
           "values": [-3,-2.8,-2.6,-2.4,-2.2,-2,-1.8,-1.6,-1.4,-1.2,-1,-0.8,-0.6,-0.4,-0.2,0,0.2,0.4,0.6,0.8,1,1.2,1.4,1.6,1.8,2],
           "labelExpr": "abs(datum.value - round(datum.value)) < 0.001 ? toString(round(datum.value)) : ''",
           "tickSize": {"condition": {"test": "abs(datum.value - round(datum.value)) < 0.001", "value": -11}, "value": -5.5},
           "grid": true, "gridColor": "black", "gridDash": [2, 4], "gridWidth": 2,
           "gridOpacity": {"condition": {"test": "abs(datum.value - round(datum.value)) < 0.001", "value": 1}, "value": 0}}},
       "y": {"field": "n", "type": "quantitative", "scale": {"domain": [0, 2942], "nice": false},
         "axis": {"title": "Number of Entries", "titleAnchor": "end", "titleFontSize": 18, "labelFontSize": 18, "titlePadding": -12.5, "labelPadding": 8.5, "labelOverlap": false, "tickCount": 200,
           "values": [0,100,200,300,400,500,600,700,800,900,1000,1100,1200,1300,1400,1500,1600,1700,1800,1900,2000,2100,2200,2300,2400,2500,2600,2700,2800],
           "labelExpr": "datum.value % 500 === 0 ? toString(datum.value) : ''",
           "tickSize": {"condition": {"test": "datum.value % 500 === 0", "value": -11}, "value": -5.5},
           "grid": true, "gridColor": "black", "gridDash": [2, 4], "gridWidth": 2,
           "gridOpacity": {"condition": {"test": "datum.value % 500 === 0", "value": 1}, "value": 0}}}
     }},
    {"mark": {"type": "line", "interpolate": "step-after", "color": "#000099", "strokeWidth": 3},
     "encoding": {"x": {"field": "t", "type": "quantitative"}, "y": {"field": "n", "type": "quantitative"}}}
  ]
}
],
"spacing": 124,
"bounds": "flush",
"resolve": {"scale": {"x": "independent", "y": "independent"}}
}
]
}
